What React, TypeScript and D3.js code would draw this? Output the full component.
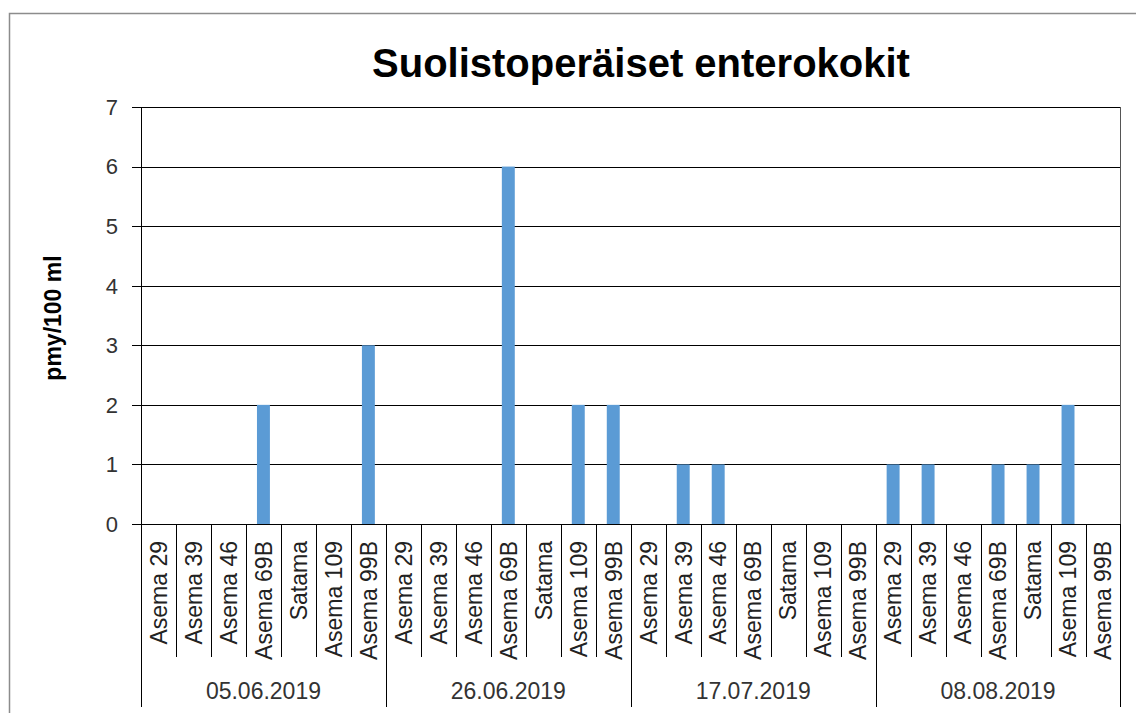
import React, { useEffect, useRef } from 'react';
import * as d3 from 'd3';

const dates = ['05.06.2019', '26.06.2019', '17.07.2019', '08.08.2019'];
const stations = ['Asema 29', 'Asema 39', 'Asema 46', 'Asema 69B', 'Satama', 'Asema 109', 'Asema 99B'];
const values0506 = [0, 0, 0, 2, 0, 0, 3];
const values2606 = [0, 0, 0, 6, 0, 2, 2];
const values1707 = [0, 1, 1, 0, 0, 0, 0];
const values0808 = [1, 1, 0, 1, 1, 2, 0];
const yTicks = [0, 1, 2, 3, 4, 5, 6, 7];

const FONT = '"Liberation Sans", Arial, sans-serif';

function App() {
  const ref = useRef<SVGSVGElement>(null);

  useEffect(() => {
    const svg = d3.select(ref.current);
    svg.selectAll('*').remove();

    const left = 141;
    const right = 1120.5;
    const top = 107;
    const bottom = 524;

    const groups = [values0506, values2606, values1707, values0808];
    const rows = groups.flatMap((vals, g) =>
      stations.map((s, i) => ({ key: `${g}-${i}`, group: g, station: s, value: vals[i] }))
    );

    const x = d3.scaleBand<string>().domain(rows.map((d) => d.key)).range([left, right]).padding(0);
    const y = d3.scaleLinear().domain([0, 7]).range([bottom, top]);
    const bw = x.bandwidth();
    const barW = bw * 0.37;

    // outer chart frame
    svg.append('rect')
      .attr('x', 9.5).attr('y', 13.5)
      .attr('width', 1140).attr('height', 720)
      .attr('fill', '#fff').attr('stroke', '#8c8c8c').attr('stroke-width', 1.5);

    // title
    svg.append('text')
      .attr('x', 641).attr('y', 77)
      .attr('text-anchor', 'middle')
      .attr('font-family', FONT).attr('font-weight', 'bold').attr('font-size', 40)
      .attr('fill', '#000')
      .text('Suolistoperäiset enterokokit');

    // grid lines + ticks
    const grid = svg.append('g');
    yTicks.forEach((t) => {
      grid.append('line')
        .attr('x1', 132).attr('x2', right)
        .attr('y1', Math.round(y(t)) + 0.5).attr('y2', Math.round(y(t)) + 0.5)
        .attr('stroke', '#000').attr('stroke-width', 1);
      grid.append('text')
        .attr('x', 118).attr('y', y(t))
        .attr('dy', '0.36em')
        .attr('text-anchor', 'end')
        .attr('font-family', FONT).attr('font-size', 22)
        .attr('fill', '#333')
        .text(t);
    });

    // bars
    svg.append('g')
      .selectAll('rect')
      .data(rows.filter((d) => d.value > 0))
      .enter()
      .append('rect')
      .attr('x', (d) => (x(d.key) as number) + (bw - barW) / 2)
      .attr('y', (d) => y(d.value))
      .attr('width', barW)
      .attr('height', (d) => y(0) - y(d.value))
      .attr('fill', '#5B9BD5');

    // axes lines
    svg.append('line')
      .attr('x1', left + 0.5).attr('x2', left + 0.5)
      .attr('y1', top).attr('y2', bottom)
      .attr('stroke', '#000');
    svg.append('line')
      .attr('x1', right).attr('x2', right)
      .attr('y1', top).attr('y2', bottom)
      .attr('stroke', '#555');

    // category separators
    const sep = svg.append('g');
    rows.forEach((d, i) => {
      const xx = Math.round(x(d.key) as number) + 0.5;
      const isGroup = i % stations.length === 0;
      sep.append('line')
        .attr('x1', xx).attr('x2', xx)
        .attr('y1', bottom).attr('y2', isGroup ? 707 : 657)
        .attr('stroke', '#000');
    });
    sep.append('line')
      .attr('x1', right).attr('x2', right)
      .attr('y1', bottom).attr('y2', 707)
      .attr('stroke', '#000');

    // category labels
    svg.append('g')
      .selectAll('text')
      .data(rows)
      .enter()
      .append('text')
      .attr('transform', (d) => `translate(${(x(d.key) as number) + bw / 2},541) rotate(-90)`)
      .attr('dy', '0.36em')
      .attr('text-anchor', 'end')
      .attr('font-family', FONT).attr('font-size', 23)
      .attr('fill', '#222')
      .text((d) => d.station);

    // date labels
    svg.append('g')
      .selectAll('text')
      .data(dates)
      .enter()
      .append('text')
      .attr('x', (d, g) => {
        const first = x(`${g}-0`) as number;
        const last = (x(`${g}-${stations.length - 1}`) as number) + bw;
        return (first + last) / 2;
      })
      .attr('y', 699)
      .attr('text-anchor', 'middle')
      .attr('font-family', FONT).attr('font-size', 23)
      .attr('fill', '#333')
      .text((d) => d);

    // y axis title
    svg.append('text')
      .attr('transform', 'translate(53,318) rotate(-90)')
      .attr('dy', '0.36em')
      .attr('text-anchor', 'middle')
      .attr('font-family', FONT).attr('font-weight', 'bold').attr('font-size', 23)
      .attr('fill', '#000')
      .text('pmy/100 ml');
  }, []);

  return (
    <svg
      ref={ref}
      width={1136}
      height={713}
      style={{ position: 'absolute', left: 0, top: 0, background: '#fff' }}
    />
  );
}

export default App;
